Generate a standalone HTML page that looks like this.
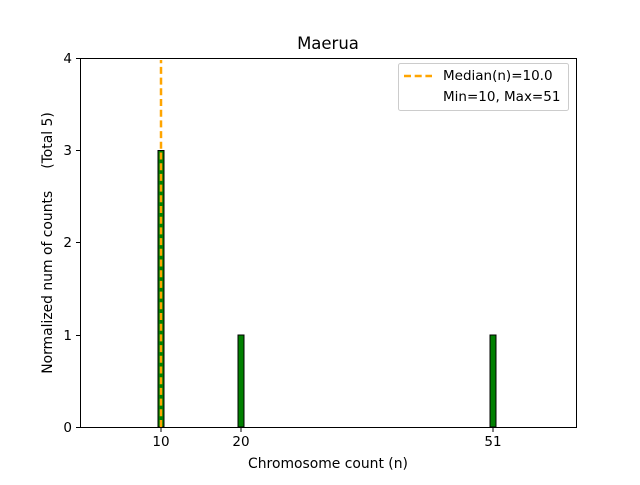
<!DOCTYPE html>
<html><head><meta charset="utf-8"><style>body{margin:0;background:#fff}svg text{font-family:"DejaVu Sans","Liberation Sans",sans-serif;white-space:pre}</style></head><body>
<svg width="640" height="480" viewBox="0 0 640 480" xmlns="http://www.w3.org/2000/svg">
<rect width="640" height="480" fill="#fff"/>
<text x="328" y="49" font-size="16.5" text-anchor="middle">Maerua</text>
<g stroke="#000" stroke-width="1" fill="#008000">
<rect x="158" y="150.5" width="6" height="276.5"/>
<rect x="238" y="335" width="6" height="92"/>
<rect x="490" y="335" width="6" height="92"/>
</g>
<line x1="161" y1="427" x2="161" y2="60" stroke="#ffa500" stroke-width="2.5" stroke-dasharray="7,3.7"/>
<rect x="80.5" y="58.5" width="496" height="369" fill="none" stroke="#000" stroke-width="1"/>
<g stroke="#000" stroke-width="1">
<line x1="80" y1="427.5" x2="76" y2="427.5"/><line x1="80" y1="335.5" x2="76" y2="335.5"/>
<line x1="80" y1="242.5" x2="76" y2="242.5"/><line x1="80" y1="150.5" x2="76" y2="150.5"/>
<line x1="80" y1="58.5" x2="76" y2="58.5"/>
<line x1="161" y1="428" x2="161" y2="432"/><line x1="241" y1="428" x2="241" y2="432"/><line x1="493" y1="428" x2="493" y2="432"/>
</g>
<g font-size="13.5" text-anchor="end">
<text x="72" y="432">0</text><text x="72" y="340">1</text><text x="72" y="247">2</text><text x="72" y="155">3</text><text x="72" y="63">4</text>
</g>
<g font-size="13.5" text-anchor="middle">
<text x="161" y="446">10</text><text x="241" y="446">20</text><text x="493" y="446">51</text>
<text x="328" y="468" font-size="13.9">Chromosome count (n)</text>
</g>
<text transform="translate(52,243) rotate(-90)" font-size="13.9" text-anchor="middle" xml:space="preserve">Normalized num of counts     (Total 5)</text>
<rect x="398.5" y="63.5" width="170" height="47" rx="2" fill="#fff" stroke="#ccc"/>
<line x1="404" y1="76" x2="432" y2="76" stroke="#ffa500" stroke-width="2.5" stroke-dasharray="7,3.7"/>
<text x="443" y="80" font-size="13.5">Median(n)=10.0</text>
<text x="443" y="101" font-size="13.5">Min=10, Max=51</text>
</svg>
</body></html>
